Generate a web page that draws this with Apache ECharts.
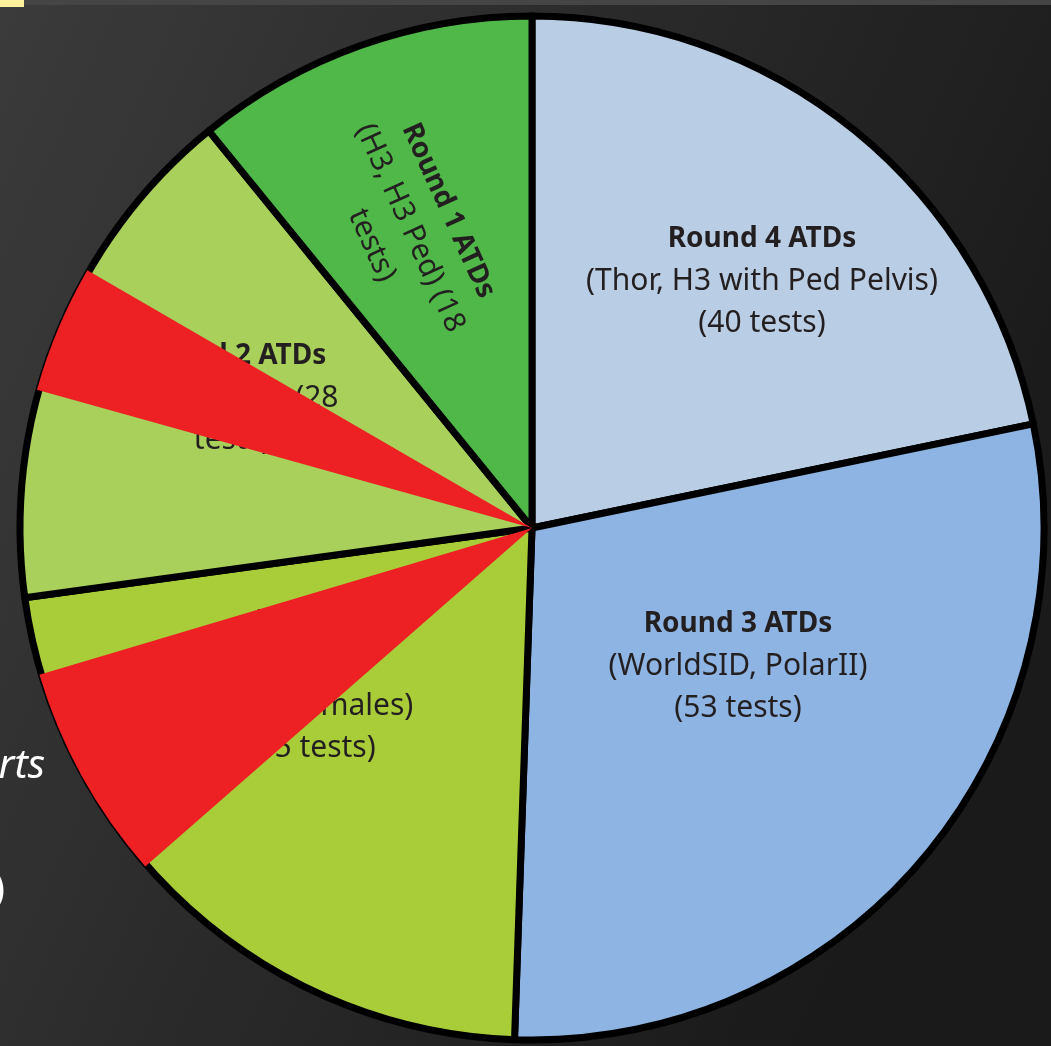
<!DOCTYPE html>
<html>
<head>
<meta charset="utf-8">
<script src="https://cdn.jsdelivr.net/npm/echarts@6/dist/echarts.min.js"></script>
<style>
html,body{margin:0;padding:0;background:#2a2a2a;}
#chart{width:1051px;height:1046px;}
</style>
</head>
<body>
<div id="chart"></div>
<script>
// ---- data ----
const categories = ['Round 4 ATDs', 'Round 3 ATDs', 'H3 ATDs', 'Round 2 ATDs', 'Round 1 ATDs'];
const values = [40, 53, 41, 30, 20];
const detailLines = [
  ['(Thor, H3 with Ped Pelvis)', '(40 tests)'],
  ['(WorldSID, PolarII)', '(53 tests)'],
  ['(50th,', 'small females)', '(45 tests)'],
  ['(H3, ES-2re) (28', 'tests)'],
  ['(H3, H3 Ped) (18', 'tests)']
];
const sliceColors = ['#B9CDE5', '#8EB4E3', '#A9CD38', '#A8D05A', '#50B848'];
// red highlight wedges overlaid on the pie (angular spans, clockwise from top)
const overlayValues = [228.8, 24.6, 32.2, 14.5, 59.9];
const overlayIsRed = [false, true, false, true, false];

// ---- layout (label anchors, px) ----
const labelAnchors = [[762, 281], [738, 666], [312, 685], [232, 398], [410, 228]];
const labelRotate = [0, 0, 0, 0, -65.6];

const chart = echarts.init(document.getElementById('chart'), null, {renderer: 'canvas'});

const mainData = categories.map((c, i) => ({
  name: c,
  value: values[i],
  itemStyle: {color: sliceColors[i]},
  label: {rotate: labelRotate[i]}
}));
const overlayData = overlayValues.map((v, i) => ({
  name: 'o' + i,
  value: v,
  itemStyle: {color: overlayIsRed[i] ? '#ED2024' : 'rgba(0,0,0,0)'}
}));

const option = {
  animation: false,
  backgroundColor: 'transparent',
  graphic: [
    {type: 'rect', z: -10, silent: true, shape: {x: 0, y: 0, width: 1051, height: 1046},
      style: {fill: {type: 'linear', x: 0, y: 0, x2: 1, y2: 0.45, colorStops: [
        {offset: 0, color: '#3b3b3b'}, {offset: 0.5, color: '#2a2a2a'}, {offset: 1, color: '#1a1a1a'}]}}},
    {type: 'rect', z: -9, silent: true, shape: {x: 0, y: 0, width: 1051, height: 5}, style: {fill: '#454545'}},
    {type: 'rect', z: -8, silent: true, shape: {x: 0, y: 0, width: 24, height: 7}, style: {fill: '#FFF09C'}},
    {type: 'text', z: -8, silent: true, style: {text: 'efforts', x: 45, y: 747, align: 'right', verticalAlign: 'top',
      fill: '#ffffff', font: 'italic 40px "Noto Sans", sans-serif'}},
    {type: 'text', z: -8, silent: true, style: {text: ')', x: 5, y: 891, align: 'right', verticalAlign: 'middle',
      fill: '#ffffff', font: '40px "Noto Sans", sans-serif'}}
  ],
  series: [
    {
      type: 'pie',
      z: 2,
      center: [532, 528],
      radius: 512,
      startAngle: 90,
      clockwise: true,
      silent: true,
      itemStyle: {borderColor: '#000000', borderWidth: 7},
      label: {
        show: true,
        position: 'inside',
        color: '#231f20',
        fontFamily: '"Noto Sans", sans-serif',
        fontSize: 30,
        lineHeight: 42,
        align: 'center',
        verticalAlign: 'middle',
        formatter: p => '{b|' + p.name + '}\n' + detailLines[p.dataIndex].join('\n'),
        rich: {
          b: {fontWeight: 'bold', fontSize: 28, lineHeight: 42, color: '#231f20', fontFamily: '"Noto Sans", sans-serif'}
        }
      },
      labelLine: {show: false},
      labelLayout: p => ({x: labelAnchors[p.dataIndex][0], y: labelAnchors[p.dataIndex][1], align: 'center', verticalAlign: 'middle'}),
      emphasis: {disabled: true},
      data: mainData
    },
    {
      type: 'pie',
      z: 5,
      center: [532, 528],
      radius: 514,
      startAngle: 90,
      clockwise: true,
      silent: true,
      itemStyle: {borderWidth: 0},
      label: {show: false},
      labelLine: {show: false},
      emphasis: {disabled: true},
      data: overlayData
    }
  ]
};
chart.setOption(option);
</script>
</body>
</html>
